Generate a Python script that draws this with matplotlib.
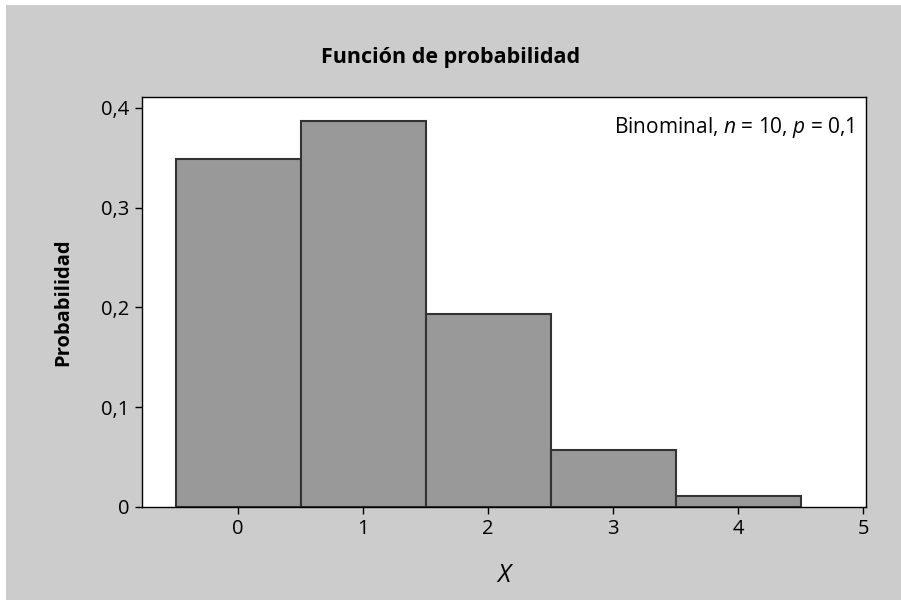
import matplotlib
matplotlib.use("Agg")
import matplotlib.pyplot as plt
from matplotlib.patches import Rectangle

# Binomial(n=10, p=0.1) probabilities
x_vals = [0, 1, 2, 3, 4]
probs = [0.3487, 0.3874, 0.1937, 0.0574, 0.0112]
x_ticks = [0, 1, 2, 3, 4, 5]
y_ticks = [0, 0.1, 0.2, 0.3, 0.4]
y_labels = ["0", "0,1", "0,2", "0,3", "0,4"]

plt.rcParams["font.family"] = ["Open Sans", "DejaVu Sans"]
plt.rcParams["mathtext.fontset"] = "custom"
plt.rcParams["mathtext.rm"] = "Open Sans"
plt.rcParams["mathtext.it"] = "Open Sans:italic"

fig = plt.figure(figsize=(9.01, 6.0), dpi=100, facecolor="white")
# gray panel with thin white strip top/left
fig.patches.append(Rectangle((6 / 901, 0), 1, 1 - 5 / 600, transform=fig.transFigure,
                             facecolor="#cccccc", edgecolor="none", zorder=-10))

ax = fig.add_axes([142 / 901, 1 - 507 / 600, (866 - 142) / 901, (507 - 97) / 600])
ax.set_facecolor("white")
ax.bar(x_vals, probs, width=1.0, color="#999999", edgecolor="#333333", linewidth=1.5)

ax.set_xlim(-0.77, 5.024)
ax.set_ylim(0, 0.411)
ax.set_xticks(x_ticks)
ax.set_yticks(y_ticks)
ax.set_yticklabels(y_labels)
ax.tick_params(direction="out", length=5, width=1, labelsize=14.5, colors="black", pad=4)
for s in ax.spines.values():
    s.set_linewidth(1.0)
    s.set_color("black")

ax.set_xlabel("X", fontsize=18, style="italic", labelpad=17)
ax.set_ylabel("Probabilidad", fontsize=14.5, fontweight="bold", labelpad=20)
fig.text(0.5, 1 - 57 / 600, "Función de probabilidad", ha="center", va="center",
         fontsize=15.5, fontweight="bold")
ax.text(0.984, 0.925, r"Binominal, $n$ = 10, $p$ = 0,1", transform=ax.transAxes,
        ha="right", va="center", fontsize=15)

fig.savefig("out.png", dpi=100, facecolor=fig.get_facecolor())
